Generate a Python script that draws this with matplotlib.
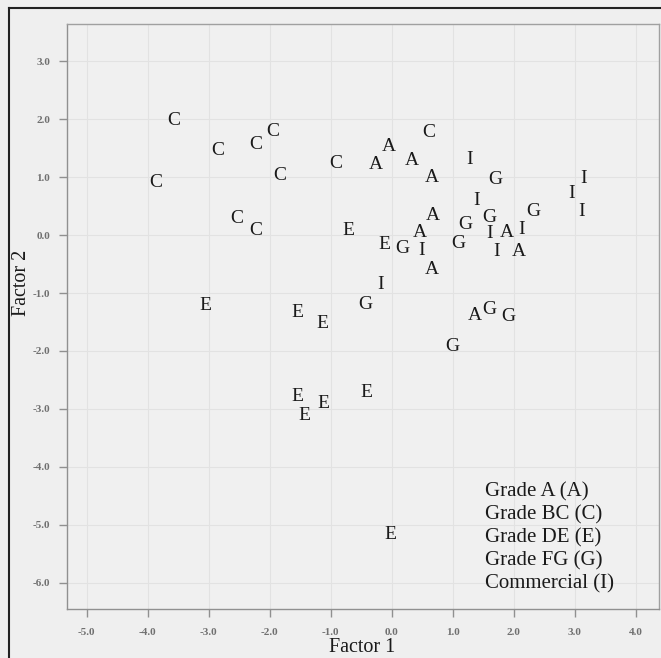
import matplotlib
matplotlib.use('Agg')
import matplotlib.pyplot as plt
from matplotlib.lines import Line2D

# Factor scores, one group per grade
grade_a_x = [-0.05, -0.26, 0.34, 0.66, 0.67, 0.46, 1.89, 2.08, 0.66, 1.36]
grade_a_y = [1.53, 1.22, 1.28, 1.00, 0.33, 0.05, 0.05, -0.29, -0.60, -1.38]

grade_bc_x = [-3.57, -2.85, -2.23, -1.95, -3.87, -1.84, -0.92, -2.54, -2.23, 0.61]
grade_bc_y = [1.98, 1.45, 1.57, 1.78, 0.91, 1.02, 1.24, 0.29, 0.07, 1.76]

grade_de_x = [-0.70, -0.11, -3.05, -1.54, -1.13, -0.41, -1.54, -1.11, -1.43, -0.02]
grade_de_y = [0.07, -0.16, -1.21, -1.33, -1.53, -2.71, -2.79, -2.91, -3.12, -5.16]

grade_fg_x = [1.70, 2.33, 1.21, 1.61, 0.18, 1.10, -0.43, 1.00, 1.61, 1.92]
grade_fg_y = [0.95, 0.40, 0.19, 0.31, -0.24, -0.14, -1.19, -1.93, -1.29, -1.40]

commercial_x = [1.28, 1.39, 1.61, 2.13, 0.49, 1.72, -0.18, 3.15, 2.95, 3.11]
commercial_y = [1.31, 0.59, 0.03, 0.09, -0.26, -0.29, -0.86, 0.97, 0.71, 0.40]

groups = [
    ('A', grade_a_x, grade_a_y),
    ('C', grade_bc_x, grade_bc_y),
    ('E', grade_de_x, grade_de_y),
    ('G', grade_fg_x, grade_fg_y),
    ('I', commercial_x, commercial_y),
]
legend_labels = ['Grade A (A)', 'Grade BC (C)', 'Grade DE (E)',
                 'Grade FG (G)', 'Commercial (I)']
ticks = [-5.0, -4.0, -3.0, -2.0, -1.0, 0.0, 1.0, 2.0, 3.0, 4.0]
yticks = [3.0, 2.0, 1.0, 0.0, -1.0, -2.0, -3.0, -4.0, -5.0, -6.0]

W, H = 661, 658
serif = 'Liberation Serif'

fig = plt.figure(figsize=(W / 100, H / 100), dpi=100, facecolor='#efefef')
ax = fig.add_axes([67 / W, 1 - 609 / H, (659 - 67) / W, (609 - 24) / H])
ax.set_facecolor('#f0f0f0')

# letters as markers
for letter, xs, ys in groups:
    for x, y in zip(xs, ys):
        ax.text(x, y, letter, ha='center', va='center', fontsize=14,
                family=serif, color='#1a1a1a')

# legend drawn as plain text lines
for i, lab in enumerate(legend_labels):
    ax.text(1.53, -4.43 - i * 0.397, lab, ha='left', va='center',
            fontsize=15, family=serif, color='#1a1a1a')

ax.set_xlim(-5.32, 4.385)
ax.set_ylim(-6.45, 3.64)
ax.set_xticks(ticks)
ax.set_yticks(yticks)
ax.set_xticklabels([f'{t:.1f}' for t in ticks])
ax.set_yticklabels([f'{t:.1f}' for t in yticks])
ax.tick_params(direction='out', length=6, width=1, color='#909090',
               labelcolor='#707070', labelsize=8)
for lbl in ax.get_xticklabels() + ax.get_yticklabels():
    lbl.set_family(serif)
    lbl.set_fontweight('bold')
ax.tick_params(axis='x', pad=8)
ax.tick_params(axis='y', pad=6)
ax.tick_params(top=False, right=False)

for s in ax.spines.values():
    s.set_color('#a0a0a0')
    s.set_linewidth(1.0)
ax.spines['left'].set_color('#909090')
ax.spines['bottom'].set_color('#909090')

ax.grid(True, color='#e2e2e2', linewidth=0.8)
ax.set_axisbelow(True)

# axis titles
fig.text(21 / W, 1 - 283 / H, 'Factor 2', rotation=90, ha='center',
         va='center', fontsize=14.5, family=serif, color='#1a1a1a')
fig.text(362 / W, 1 - 652 / H, 'Factor 1', ha='center', va='baseline',
         fontsize=14.5, family=serif, color='#1a1a1a')

# outer frame of the scanned figure
fig.add_artist(Line2D([9 / W, 9 / W], [0, 1 - 8 / H], color='#222222',
                      linewidth=1.5, transform=fig.transFigure))
fig.add_artist(Line2D([9 / W, 1], [1 - 8 / H, 1 - 8 / H], color='#222222',
                      linewidth=1.5, transform=fig.transFigure))

fig.savefig('out.png', dpi=100, facecolor=fig.get_facecolor())
